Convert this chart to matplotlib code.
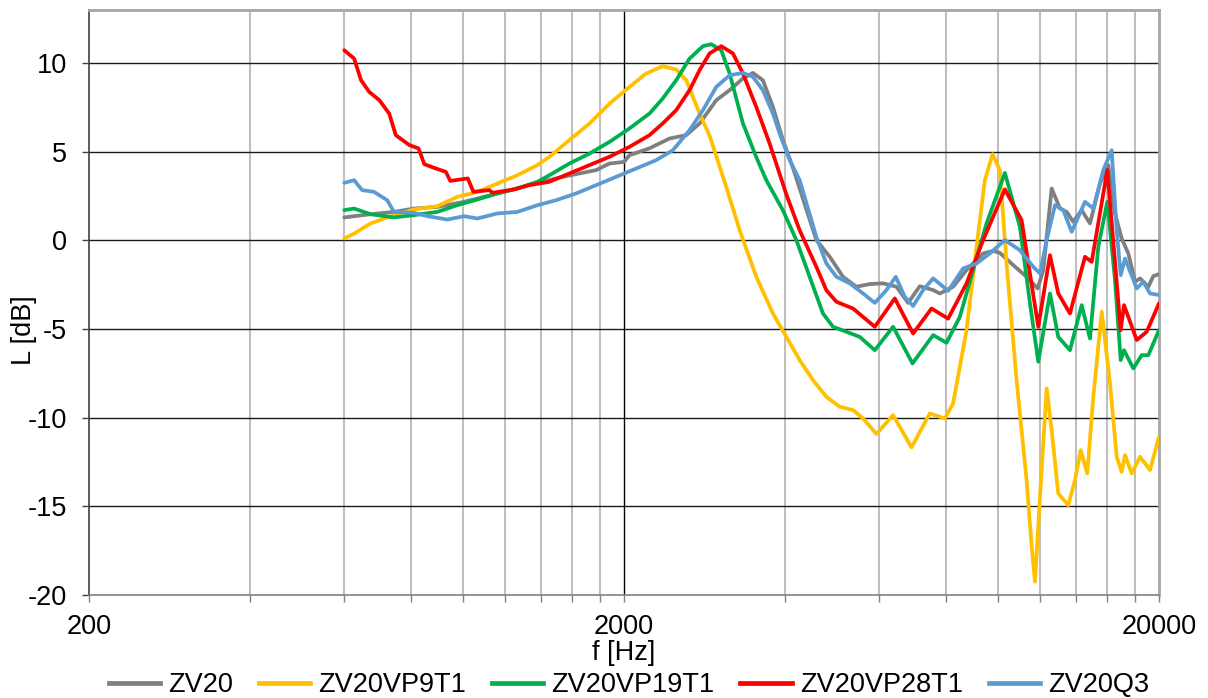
import matplotlib
matplotlib.use("Agg")
import matplotlib.pyplot as plt
from matplotlib.lines import Line2D
from matplotlib.ticker import FixedLocator, NullFormatter

plt.rcParams['font.family'] = ['Liberation Sans', 'DejaVu Sans']

# ---------------- data ----------------
series_names = ["ZV20", "ZV20VP9T1", "ZV20VP19T1", "ZV20VP28T1", "ZV20Q3"]
series_colors = ["#7F7F7F", "#FFC000", "#00B050", "#FF0000", "#5B9BD5"]

gray_f = [600, 672, 743, 810, 895, 1005, 1095, 1228, 1358, 1537, 1651, 1774, 1879, 2000, 2048,
          2232, 2433, 2614, 2769, 2975, 3151, 3337, 3483, 3636, 3797, 3964, 4138, 4577, 4848, 5133,
          5438, 5760, 6099, 6461, 6792, 7144, 7566, 7787, 8245, 8735, 9383, 9796, 10083, 10678, 11311,
          11864, 12154, 12600, 13060, 13441, 13829, 14338, 14861, 15515, 16078, 16550, 17034, 17524,
          18041, 18432, 19101, 19518, 20000]
gray_L = [1.30, 1.48, 1.61, 1.80, 1.89, 2.18, 2.46, 2.84, 3.21, 3.59, 3.78, 3.97, 4.34, 4.43, 4.81,
          5.20, 5.75, 5.94, 6.60, 7.91, 8.48, 9.14, 9.45, 9.04, 7.53, 5.66, 4.10, 0.02, -0.92, -2.05,
          -2.61, -2.46, -2.42, -2.61, -3.52, -2.58, -2.80, -2.99, -2.61, -1.67, -0.73, -0.59, -0.70, -1.39, -2.05,
          -2.71, -1.67, 2.93, 1.80, 1.61, 1.05, 1.71, 0.96, 3.21, 4.25, 1.52, 0.11, -0.73,
          -2.33, -2.14, -2.61, -2.01, -1.90]

yel_f = [600, 626, 672, 722, 810, 895, 976, 1064, 1159, 1264, 1378, 1451, 1581, 1724, 1879,
         2048, 2200, 2363, 2504, 2614, 2769, 2891, 3106, 3290, 3534, 3797, 4022, 4260, 4511, 4779,
         5061, 5360, 5596, 5928, 6368, 6893, 7459, 7957, 8245, 8735, 9120, 9453, 9771, 10083, 10377,
         10834, 11311, 11562, 11728, 11983, 12333, 12600, 12963, 13534, 13931, 14277, 14688, 15074,
         15629, 16197, 16670, 17034, 17279, 17785, 18432, 19243, 20000]
yel_L = [0.11, 0.39, 0.96, 1.30, 1.75, 1.93, 2.46, 2.74, 3.21, 3.68, 4.25, 4.72, 5.66, 6.60, 7.72,
         8.66, 9.42, 9.83, 9.64, 9.04, 7.16, 5.90, 3.02, 0.58, -2.05, -4.12, -5.44, -6.75, -7.88, -8.82,
         -9.38, -9.57, -10.04, -10.92, -9.85, -11.67, -9.76, -10.04, -9.19, -5.06, -0.36, 3.40, 4.87, 3.97, -1.30,
         -7.88, -13.52, -17.28, -19.25, -14.46, -8.35, -10.70, -14.27, -14.93, -13.52, -11.83, -13.14, -8.82,
         -4.02, -8.06, -12.20, -13.05, -12.11, -13.14, -12.20, -12.95, -11.07]

grn_f = [600, 626, 672, 743, 810, 895, 976, 1064, 1159, 1264, 1378, 1451, 1581, 1724, 1879,
         2048, 2232, 2363, 2504, 2652, 2809, 2912, 3040, 3151, 3337, 3534, 3690, 3964, 4199, 4447,
         4709, 4917, 5209, 5517, 5886, 6368, 6923, 7566, 8014, 8487, 8988, 9521, 10303, 10990, 11478,
         11895, 12509, 12963, 13634, 14338, 14861, 15400, 16010, 16550, 16961, 17204, 17909, 18567,
         19101, 20000]
grn_L = [1.71, 1.80, 1.48, 1.30, 1.43, 1.61, 1.99, 2.31, 2.65, 2.93, 3.31, 3.68, 4.34, 4.90, 5.56,
         6.32, 7.16, 8.01, 9.04, 10.26, 10.96, 11.07, 10.73, 9.42, 6.60, 4.70, 3.40, 1.70, 0.02, -2.05,
         -4.12, -4.87, -5.15, -5.44, -6.19, -4.87, -6.94, -5.34, -5.77, -4.31, -1.67, 0.96, 3.81, 0.77, -3.55,
         -6.84, -2.99, -5.44, -6.19, -3.65, -5.53, -0.36, 2.18, -2.24, -6.75, -6.19, -7.22, -6.47,
         -6.47, -5.06]

red_f = [600, 626, 645, 668, 698, 728, 749, 794, 826, 847, 890, 929, 947, 1021, 1046,
         1120, 1137, 1246, 1331, 1451, 1581, 1724, 1879, 2048, 2232, 2363, 2504, 2652, 2769, 2891,
         3040, 3196, 3337, 3534, 3743, 4022, 4260, 4577, 4779, 4990, 5360, 5886, 6415, 6941, 7513,
         8070, 8735, 9383, 10303, 11070, 11895, 12509, 12963, 13634, 14544, 14970, 16010, 16961,
         17204, 18172, 18970, 20000]
red_L = [10.73, 10.26, 9.04, 8.38, 7.91, 7.16, 5.94, 5.38, 5.19, 4.30, 4.06, 3.87, 3.36, 3.50, 2.74,
         2.84, 2.69, 2.88, 3.12, 3.31, 3.78, 4.25, 4.72, 5.28, 5.94, 6.60, 7.35, 8.48, 9.61, 10.55,
         10.96, 10.55, 9.42, 7.53, 5.47, 2.60, 0.57, -1.49, -2.81, -3.46, -3.84, -4.87, -3.27, -5.25, -3.84,
         -4.41, -2.43, 0.02, 2.88, 1.15, -4.87, -0.83, -2.99, -4.12, -0.92, -1.21, 3.97, -5.06,
         -3.65, -5.62, -5.15, -3.55]

blu_f = [600, 626, 648, 682, 722, 743, 810, 858, 935, 1005, 1064, 1159, 1264, 1378, 1493,
         1627, 1774, 1934, 2108, 2297, 2468, 2652, 2809, 2975, 3151, 3337, 3483, 3636, 3797, 3908,
         4080, 4260, 4577, 4779, 4990, 5284, 5596, 5886, 6189, 6442, 6697, 6941, 7246, 7566, 8070,
         8608, 9120, 9658, 10303, 10990, 11642, 11983, 12333, 12782, 13246, 13734, 14544, 15074,
         15737, 16315, 16670, 16961, 17279, 18172, 18696, 19243, 20000]
blu_L = [3.25, 3.40, 2.84, 2.74, 2.27, 1.61, 1.56, 1.37, 1.18, 1.37, 1.24, 1.52, 1.61, 1.99, 2.27,
         2.65, 3.12, 3.59, 4.06, 4.53, 5.09, 6.22, 7.35, 8.66, 9.32, 9.45, 9.23, 8.48, 7.16, 6.03,
         4.53, 3.40, 0.20, -1.30, -2.05, -2.42, -2.99, -3.52, -2.80, -2.05, -3.18, -3.70, -2.80, -2.14, -2.84,
         -1.58, -1.30, -0.73, 0.02, -0.55, -1.49, -1.86, 0.02, 1.99, 1.71, 0.49, 2.18, 1.80,
         3.97, 5.09, 0.58, -1.96, -1.02, -2.71, -2.33, -2.99, -3.08]

x_major = [200, 2000, 20000]
x_major_labels = ["200", "2000", "20000"]
x_minor = [400, 600, 800, 1000, 1200, 1400, 1600, 1800,
           4000, 6000, 8000, 10000, 12000, 14000, 16000, 18000]
y_ticks = [-20, -15, -10, -5, 0, 5, 10]
y_tick_labels = ["-20", "-15", "-10", "-5", "0", "5", "10"]

# ---------------- figure ----------------
W, H = 1208, 698
fig = plt.figure(figsize=(W / 100, H / 100), dpi=100)
ax = fig.add_axes([89 / W, 1 - 595 / H, (1159 - 89) / W, (595 - 10) / H])

ax.set_xscale('log')
ax.set_xlim(200, 20000)
ax.set_ylim(-20, 13)

ax.xaxis.set_major_locator(FixedLocator(x_major))
ax.xaxis.set_minor_locator(FixedLocator(x_minor))
ax.xaxis.set_minor_formatter(NullFormatter())
ax.set_xticklabels(x_major_labels)
ax.set_yticks(y_ticks)
ax.set_yticklabels(y_tick_labels)

for xv in x_minor:
    ax.axvline(xv, color="#BFBFBF", lw=1.5, zorder=1)
ax.axvline(2000, color="#000000", lw=1.0, zorder=1)
for yv in y_ticks[1:]:
    ax.axhline(yv, color="#1A1A1A", lw=1.0, zorder=1)

fs = 19.5
ax.tick_params(axis='x', which='major', direction='out', length=5, width=1, color="#808080",
               labelsize=fs, pad=9)
ax.tick_params(axis='x', which='minor', direction='out', length=5, width=1, color="#808080")
ax.tick_params(axis='y', which='major', direction='out', length=5, width=1, color="#404040",
               labelsize=fs, pad=11)

for s in ['top', 'right']:
    ax.spines[s].set_color("#A6A6A6")
    ax.spines[s].set_linewidth(2)
ax.spines['left'].set_color("#404040")
ax.spines['left'].set_linewidth(1.2)
ax.spines['bottom'].set_color("#808080")
ax.spines['bottom'].set_linewidth(1.2)

all_f = [gray_f, yel_f, grn_f, red_f, blu_f]
all_L = [gray_L, yel_L, grn_L, red_L, blu_L]
for i, (f, L) in enumerate(zip(all_f, all_L)):
    ax.plot(f, L, color=series_colors[i], lw=2.7, solid_joinstyle='round',
            solid_capstyle='round', zorder=3 + i, label=series_names[i])

ax.set_xlabel("f [Hz]", fontsize=fs, va='center')
ax.xaxis.set_label_coords(0.5, -0.099)
ax.set_ylabel("L [dB]", fontsize=fs, va='center', ha='center')
ax.yaxis.set_label_coords(-0.061, 0.453)

handles = [Line2D([0], [0], color=c, lw=3.4) for c in series_colors]
fig.legend(handles, series_names, loc='center', bbox_to_anchor=(629 / W, 1 - 685 / H),
           ncol=5, frameon=False, fontsize=fs, handlelength=1.9, handletextpad=0.3,
           columnspacing=0.95, borderpad=0, borderaxespad=0)

fig.savefig("out.png", dpi=100)
